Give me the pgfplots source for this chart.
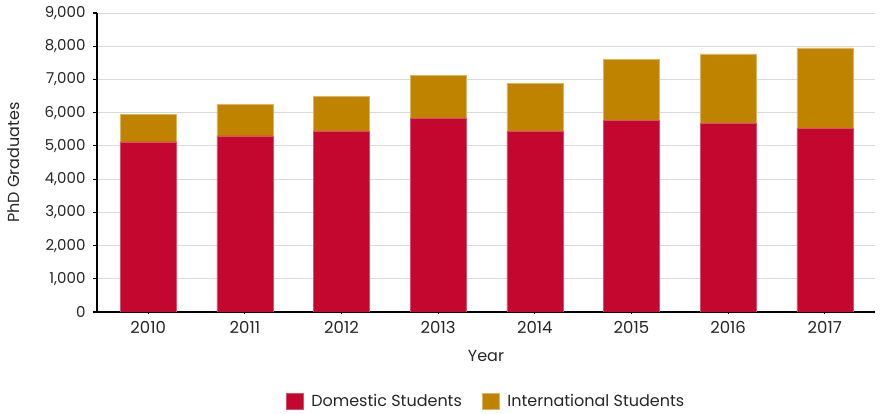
\documentclass[border=0pt]{standalone}
\usepackage{fontspec}
\setmainfont{Poppins}
\usepackage{pgfplots}
\pgfplotsset{compat=1.18}

\definecolor{domestic}{HTML}{C4072F}
\definecolor{intl}{HTML}{BF8300}
\definecolor{gridgray}{HTML}{D9D9D9}

\newcommand\labfont{\fontsize{16}{18}\selectfont}
\newcommand\tickfont{\fontsize{15}{17}\selectfont}
\newcommand\xtickfont{\fontsize{16.5}{18}\selectfont}

\begin{document}
\begin{tikzpicture}
\useasboundingbox (-97pt,-102pt) rectangle (783pt,312pt);
\begin{axis}[
  at={(0pt,0pt)}, anchor=south west,
  scale only axis,
  width=778pt, height=299pt,
  ybar stacked, bar width=56pt,
  xmin=-0.53, xmax=7.52,
  ymin=0, ymax=9000,
  xtick={0,...,7},
  xticklabels={2010,2011,2012,2013,2014,2015,2016,2017},
  ytick={0,1000,...,9000},
  ymajorgrids, grid style={gridgray, line width=1pt},
  axis x line*=bottom, axis y line*=left,
  axis line style={black, line width=1.2pt, -},
  tick style={black, line width=1.2pt},
  major tick length=4pt,
  xtick style={/pgfplots/major tick length=2.5pt},
  tick align=outside,
  /pgf/number format/assume math mode=true,
  /pgf/number format/1000 sep={,},
  yticklabel style={font=\tickfont, text=black!85, xshift=-4pt},
  xticklabel style={font=\xtickfont, text=black!85, yshift=-2pt},
  ylabel={PhD Graduates},
  xlabel={Year},
  every axis y label/.style={at={(axis description cs:-0.107,0.5)}, rotate=90, anchor=center,
    font=\labfont, text=black!85},
  every axis x label/.style={at={(axis description cs:0.5,-0.147)}, anchor=center,
    font=\labfont, text=black!85},
  legend style={at={(axis description cs:0.5,-0.298)}, anchor=center, draw=none,
    font=\labfont, text=black!85,
    legend columns=2, /tikz/every even column/.append style={column sep=18pt},
    /tikz/every odd column/.append style={column sep=6pt}},
  legend image code/.code={\fill[#1] (0pt,-8pt) rectangle (17pt,8pt);},
]
\addplot[fill=domestic, draw=domestic!70!white, line width=0.5pt] coordinates {
  (0,5120) (1,5300) (2,5440) (3,5830) (4,5440) (5,5760) (6,5680) (7,5520)};
\addlegendentry{Domestic Students}
\addplot[fill=intl, draw=intl!60!white, line width=0.5pt] coordinates {
  (0,830) (1,960) (2,1060) (3,1290) (4,1450) (5,1840) (6,2090) (7,2430)};
\addlegendentry{International Students}
\end{axis}
\end{tikzpicture}
\end{document}
